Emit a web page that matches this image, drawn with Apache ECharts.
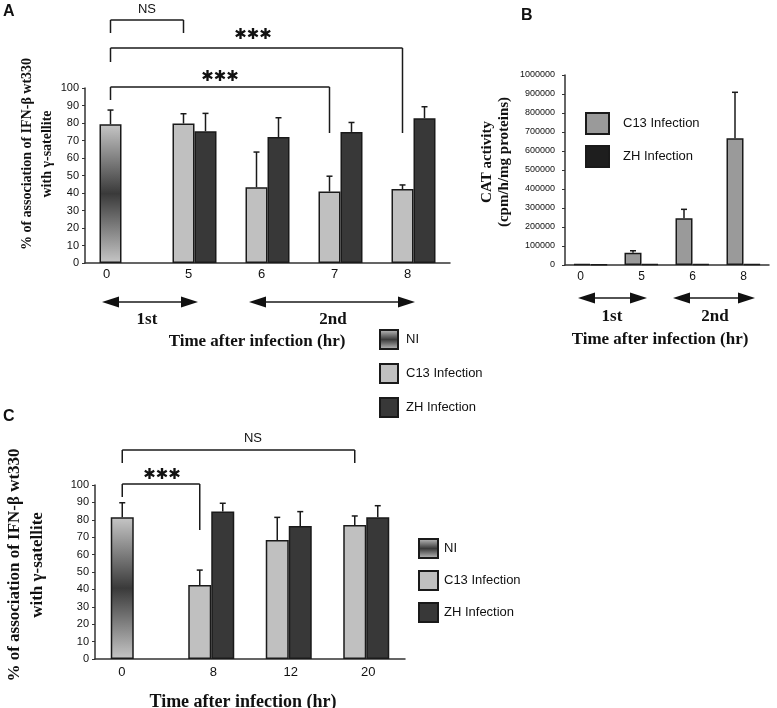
<!DOCTYPE html>
<html>
<head>
<meta charset="utf-8">
<script src="https://cdn.jsdelivr.net/npm/echarts@6/dist/echarts.min.js"></script>
<style>html,body{margin:0;padding:0;background:#fff}#c{width:777px;height:708px}</style>
</head>
<body>
<div id="c"></div>
<script>
// ---- Panel A data ----
const catA = ['0', '5', '6', '7', '8'];
const niA = [79.3, '-', '-', '-', '-'];
const niAErr = [87.4, null, null, null, null];
const c13A = ['-', 79.7, 43.3, 40.8, 42.3];
const c13AErr = [null, 85.3, 63.4, 49.6, 44.6];
const zhA = ['-', 75.3, 72.0, 74.9, 82.7];
const zhAErr = [null, 85.5, 83.0, 80.3, 89.3];
// ---- Panel B data ----
const catB = ['0', '5', '6', '8'];
const c13B = [5000, 65000, 246000, 667000];
const c13BErr = [null, 75000, 293000, 909000];
const zhB = [3000, 5000, 6000, 4000];
// ---- Panel C data ----
const catC = ['0', '8', '12', '20'];
const niC = [81.4, '-', '-', '-'];
const niCErr = [89.8, null, null, null];
const c13C = ['-', 42.5, 68.4, 77.0];
const c13CErr = [null, 51.1, 81.4, 82.2];
const zhC = ['-', 84.7, 76.4, 81.4];
const zhCErr = [null, 89.5, 84.7, 88.1];

const legendNames = ['NI', 'C13 Infection', 'ZH Infection'];
const legendNamesB = ['C13 Infection', 'ZH Infection'];

const SANS = 'Liberation Sans, Arial, sans-serif';
const SERIF = 'Liberation Serif, Times New Roman, serif';
const EDGE = '#1a1a1a';
const AX = {lineStyle: {color: '#333', width: 1.5}};

const niGrad = new echarts.graphic.LinearGradient(0, 0, 0, 1, [
  {offset: 0, color: '#c6c6c6'}, {offset: 0.5, color: '#3a3a3a'}, {offset: 1, color: '#c6c6c6'}
]);

function errData(vals, errs) {
  const out = [];
  vals.forEach((v, i) => { if (errs[i] != null) out.push([i, v, errs[i]]); });
  return out;
}
function errSeries(xi, vals, errs, offset) {
  return {
    type: 'custom', xAxisIndex: xi, yAxisIndex: xi, z: 5, silent: true,
    data: errData(vals, errs),
    encode: {x: 0, y: [1, 2]},
    renderItem: function (params, api) {
      const p1 = api.coord([api.value(0), api.value(1)]);
      const p2 = api.coord([api.value(0), api.value(2)]);
      const x = p1[0] + offset;
      const st = {stroke: '#1a1a1a', lineWidth: 1.5};
      return {type: 'group', children: [
        {type: 'line', shape: {x1: x, y1: p1[1], x2: x, y2: p2[1]}, style: st},
        {type: 'line', shape: {x1: x - 3, y1: p2[1], x2: x + 3, y2: p2[1]}, style: st}
      ]};
    }
  };
}
function barS(name, xi, data, color, bw, stack) {
  return {
    name: name, type: 'bar', xAxisIndex: xi, yAxisIndex: xi, data: data,
    stack: stack, barWidth: bw, barGap: '0%',
    itemStyle: {color: color, borderColor: EDGE, borderWidth: 1.5}
  };
}
// label nudges (pixels to the left), applied through rich-text padding
function shiftedLabel(fontSize, margin, firstShift, otherShift) {
  return {
    fontSize: fontSize, color: '#111', fontFamily: SANS, margin: margin,
    formatter: (v, i) => (i === 0 ? '{f|' + v + '}' : '{o|' + v + '}'),
    rich: {
      f: {fontSize: fontSize, fontFamily: SANS, color: '#111', padding: [0, firstShift * 2, 0, 0]},
      o: {fontSize: fontSize, fontFamily: SANS, color: '#111', padding: [0, Math.max(otherShift * 2, 0), 0, Math.max(-otherShift * 2, 0)]}
    }
  };
}

const chart = echarts.init(document.getElementById('c'), null, {renderer: 'canvas'});

const option = {
  animation: false,
  grid: [
    {left: 85, top: 88, width: 365, height: 175},
    {left: 565, top: 75, width: 204, height: 190},
    {left: 95, top: 485, width: 310, height: 174}
  ],
  xAxis: [
    {gridIndex: 0, type: 'category', data: catA, axisLine: AX, axisTick: {length: 4, lineStyle: {color: '#333'}},
      axisLabel: shiftedLabel(13, 5, 15, 6)},
    {gridIndex: 1, type: 'category', data: catB, axisLine: AX, axisTick: {length: 4, lineStyle: {color: '#333'}},
      axisLabel: shiftedLabel(12, 6, 10, 0)},
    {gridIndex: 2, type: 'category', data: catC, axisLine: AX, axisTick: {length: 4, lineStyle: {color: '#333'}},
      axisLabel: shiftedLabel(13, 7, 12, -2)}
  ],
  yAxis: [
    {gridIndex: 0, type: 'value', min: 0, max: 100, interval: 10, splitLine: {show: false},
      axisLine: Object.assign({show: true}, AX), axisTick: {show: true, length: 3, lineStyle: {color: '#333'}},
      axisLabel: {fontSize: 11, color: '#111', fontFamily: SANS, margin: 6}},
    {gridIndex: 1, type: 'value', min: 0, max: 1000000, interval: 100000, splitLine: {show: false},
      axisLine: Object.assign({show: true}, AX), axisTick: {show: true, length: 3, lineStyle: {color: '#333'}},
      axisLabel: {fontSize: 9, color: '#111', fontFamily: SANS, margin: 10, formatter: v => String(v)}},
    {gridIndex: 2, type: 'value', min: 0, max: 100, interval: 10, splitLine: {show: false},
      axisLine: Object.assign({show: true}, AX), axisTick: {show: true, length: 3, lineStyle: {color: '#333'}},
      axisLabel: {fontSize: 11, color: '#111', fontFamily: SANS, margin: 6}}
  ],
  legend: [
    {data: legendNames, orient: 'vertical', left: 379, top: 329, padding: 0, icon: 'rect', itemWidth: 18, itemHeight: 19,
      itemGap: 13, selectedMode: false, textStyle: {fontSize: 13, color: '#111', fontFamily: SANS, padding: [0, 0, 0, 3]}},
    {data: legendNamesB.map(n => 'B·' + n), orient: 'vertical', left: 585, top: 112, padding: 0, icon: 'rect', itemWidth: 23, itemHeight: 21,
      itemGap: 10, selectedMode: false, formatter: n => n.replace('B·', ''),
      textStyle: {fontSize: 13, color: '#111', fontFamily: SANS, padding: [0, 0, 0, 9]}},
    {data: legendNames, orient: 'vertical', left: 418, top: 538, padding: 0, icon: 'rect', itemWidth: 19, itemHeight: 19,
      itemGap: 11, selectedMode: false, textStyle: {fontSize: 13, color: '#111', fontFamily: SANS, padding: [0, 0, 0, 1]}}
  ],
  series: [
    barS('NI', 0, niA, niGrad, 22, 'a'),
    barS('C13 Infection', 0, c13A, '#c0c0c0', 22, 'a'),
    barS('ZH Infection', 0, zhA, '#383838', 22),
    errSeries(0, niA, niAErr, -11),
    errSeries(0, c13A, c13AErr, -11),
    errSeries(0, zhA, zhAErr, 11),

    barS('B·C13 Infection', 1, c13B, '#9a9a9a', 17),
    barS('B·ZH Infection', 1, zhB, '#1e1e1e', 17),
    errSeries(1, c13B, c13BErr, -8.5),

    barS('NI', 2, niC, niGrad, 23, 'c'),
    barS('C13 Infection', 2, c13C, '#c0c0c0', 23, 'c'),
    barS('ZH Infection', 2, zhC, '#383838', 23),
    errSeries(2, niC, niCErr, -11.5),
    errSeries(2, c13C, c13CErr, -11.5),
    errSeries(2, zhC, zhCErr, 11.5)
  ]
};
chart.setOption(option);

// ---- annotations ----
function px(xi, cat) { return chart.convertToPixel({xAxisIndex: xi}, cat); }
const LS = {stroke: '#1a1a1a', lineWidth: 1.5};
const g = [];
function line(x1, y1, x2, y2) { g.push({type: 'line', shape: {x1, y1, x2, y2}, style: LS, z: 10}); }
function bracket(xl, xr, y, yl, yr) { line(xl, y, xr, y); line(xl, y, xl, yl); line(xr, y, xr, yr); }
function text(t, x, y, font, rot) {
  g.push({type: 'text', x: x, y: y, rotation: rot || 0, z: 10,
    style: {text: t, font: font, fill: '#111', textAlign: 'center', textVerticalAlign: 'middle'}});
}
function arrow(x1, x2, y) {
  const L = 17, H = 5.5;
  line(x1 + L - 2, y, x2 - L + 2, y);
  g.push({type: 'polygon', shape: {points: [[x1, y], [x1 + L, y - H], [x1 + L, y + H]]}, style: {fill: '#111'}, z: 10});
  g.push({type: 'polygon', shape: {points: [[x2, y], [x2 - L, y - H], [x2 - L, y + H]]}, style: {fill: '#111'}, z: 10});
}
const STAR = 'bold 15px DejaVu Sans';
const BIG = 'bold 17px ' + SERIF;

// Panel A
const a0 = px(0, 0) - 11, a5 = px(0, 1) - 11, a7 = px(0, 3) - 11, a8 = px(0, 4) - 11;
bracket(a0, a5, 20, 33, 33);
text('NS', (a0 + a5) / 2, 9, '13px ' + SANS);
bracket(a0, a8, 48, 62, 133);
text('✱✱✱', 253, 35, STAR);
bracket(a0, a7, 87, 100, 133);
text('✱✱✱', 220, 77, STAR);
arrow(102, 198, 302);
arrow(249, 415, 302);
text('1st', 147, 320, BIG);
text('2nd', 333, 320, BIG);
text('Time after infection (hr)', 257, 342, BIG);
text('% of association of IFN-β wt330', 27, 154, 'bold 14px ' + SERIF, Math.PI / 2);
text('with γ-satellite', 47, 154, 'bold 14px ' + SERIF, Math.PI / 2);
g.push({type: 'text', x: 3, y: 4, z: 10, style: {text: 'A', font: 'bold 16px ' + SANS, fill: '#111'}});

// Panel B
arrow(578, 647, 298);
arrow(673, 755, 298);
text('1st', 612, 317, BIG);
text('2nd', 715, 317, BIG);
text('Time after infection (hr)', 660, 340, BIG);
text('CAT activity', 487, 162, 'bold 15px ' + SERIF, Math.PI / 2);
text('(cpm/h/mg proteins)', 504, 162, 'bold 15px ' + SERIF, Math.PI / 2);
g.push({type: 'text', x: 521, y: 8, z: 10, style: {text: 'B', font: 'bold 16px ' + SANS, fill: '#111'}});

// Panel C
const c0 = px(2, 0) - 11.5, c8 = px(2, 1) - 11.5, c20 = px(2, 3) - 11.5;
bracket(c0, c20, 450, 463, 463);
text('NS', 253, 438, '13px ' + SANS);
bracket(c0, c8, 484, 497, 530);
text('✱✱✱', 162, 475, STAR);
text('Time after infection (hr)', 243, 702, 'bold 18px ' + SERIF);
text('% of association of IFN-β wt330', 15, 565, 'bold 17px ' + SERIF, Math.PI / 2);
text('with γ-satellite', 38, 565, 'bold 17px ' + SERIF, Math.PI / 2);
g.push({type: 'text', x: 3, y: 409, z: 10, style: {text: 'C', font: 'bold 16px ' + SANS, fill: '#111'}});

chart.setOption({graphic: {elements: g}});
</script>
</body>
</html>
